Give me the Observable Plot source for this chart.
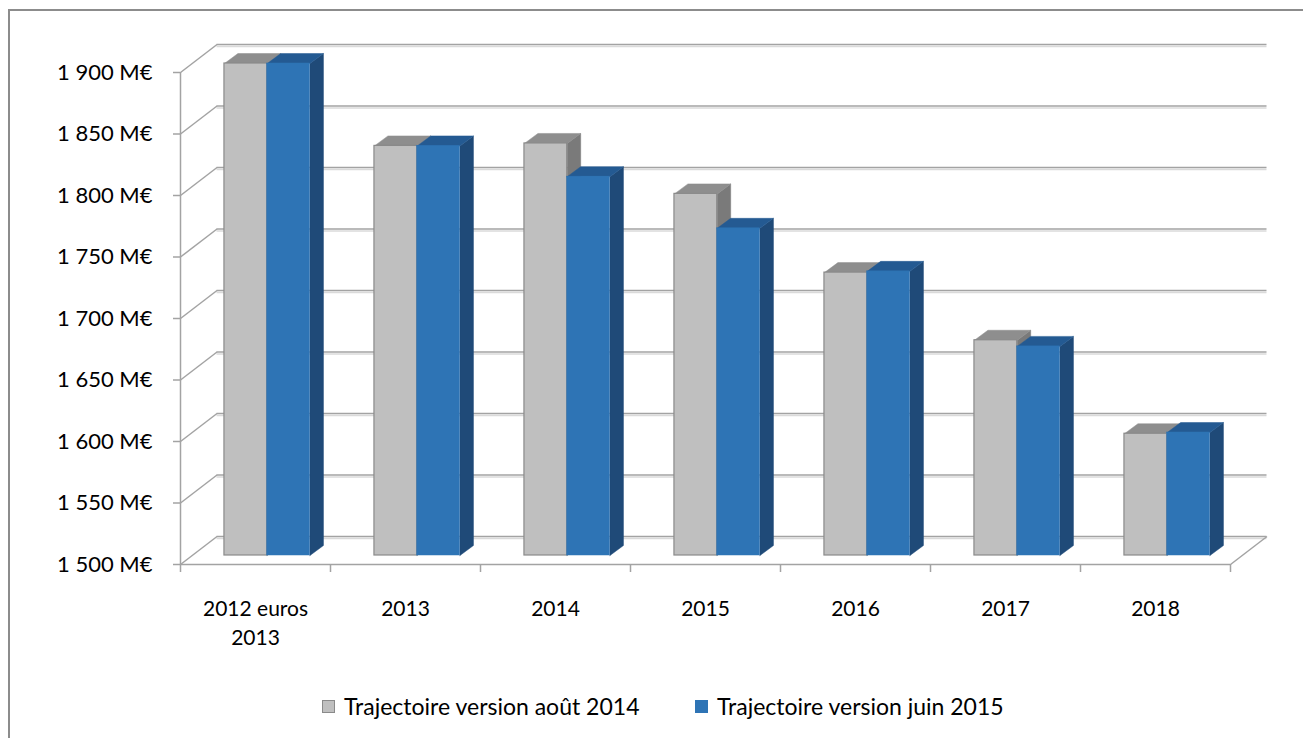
<!DOCTYPE html>
<html>
<head>
<meta charset="utf-8">
<script src="https://cdn.jsdelivr.net/npm/d3@7"></script>
<script src="https://cdn.jsdelivr.net/npm/@observablehq/plot@0.6"></script>
<style>
  html, body { margin: 0; padding: 0; background: #fff; overflow: hidden; }
  body { width: 1303px; height: 738px; position: relative; font-family: Lato, "Open Sans", sans-serif; }
  #frame { position: absolute; left: 8px; top: 9px; width: 1400px; height: 800px; border: 2px solid #8c8c8c; box-sizing: border-box; }
  #chart { position: absolute; left: 0; top: 0; }
  .leg { position: absolute; top: 694px; height: 24px; display: flex; align-items: center; font-size: 23px; color: #000; white-space: nowrap; }
  .sw { width: 13px; height: 13px; margin-right: 9px; box-sizing: border-box; }
</style>
</head>
<body>
<div id="frame"></div>
<div id="chart"></div>
<div class="leg" style="left:322px"><div class="sw" style="background:#bfbfbf;border:1.5px solid #8a8a8a"></div><span>Trajectoire version août 2014</span></div>
<div class="leg" style="left:695px"><div class="sw" style="background:#2e74b5"></div><span>Trajectoire version juin 2015</span></div>
<script>
// ---- data ----
const categories = ["2012 euros\n2013", "2013", "2014", "2015", "2016", "2017", "2018"];
const trajAout2014 = [1900, 1833, 1835, 1794, 1730, 1675, 1599];
const trajJuin2015 = [1900, 1833, 1808, 1766, 1731, 1670, 1600];
const seriesNames = ["Trajectoire version août 2014", "Trajectoire version juin 2015"];
const yTicks = [1500, 1550, 1600, 1650, 1700, 1750, 1800, 1850, 1900];

// ---- layout ----
const W = 1303, H = 660, mL = 180, mR = 73, mT = 72, mB = 96;
const yMin = 1500, yMax = 1900, nCat = categories.length;
const kx = (W - mL - mR) / nCat;          // px per category unit
const ky = (H - mT - mB) / (yMax - yMin); // px per value unit
// depth offsets (pixels) converted to data units
const WX = 36.5 / kx, WY = 28 / ky;   // wall / floor depth
const FX = 11.7 / kx, FY = 9 / ky;    // bar front plane
const BX = 13.5 / kx, BY = 10 / ky;   // bar depth
const barW = 0.285;

const palette = [
  {front: "#bfbfbf", top: "#8e8e8e", side: "#7a7a7a", edge: "#8a8a8a"},
  {front: "#2e74b5", top: "#245a92", side: "#1f4a78", edge: "#2e74b5"}
];
const series = [trajAout2014, trajJuin2015];

const fr = (d) => {
  const s = d3.format(",")(d).replace(/,/g, " ");
  return s + " M€";
};

const marks = [];
// back wall gridlines (shadow + line)
marks.push(Plot.ruleY(yTicks, {y: d => d + WY, x1: WX, x2: nCat + WX, stroke: "#dadada", strokeWidth: 1.5, dy: 2}));
marks.push(Plot.ruleY(yTicks, {y: d => d + WY, x1: WX, x2: nCat + WX, stroke: "#a3a3a3", strokeWidth: 1.5}));
// side wall diagonals
marks.push(Plot.link(yTicks, {x1: 0, y1: d => d, x2: WX, y2: d => d + WY, stroke: "#a3a3a3", strokeWidth: 1.5}));
// floor right edge
marks.push(Plot.link([yMin], {x1: nCat, y1: d => d, x2: nCat + WX, y2: d => d + WY, stroke: "#a3a3a3", strokeWidth: 1.5}));
// front axis lines
marks.push(Plot.ruleX([0], {y1: yMin, y2: yMax, stroke: "#a3a3a3", strokeWidth: 1.5}));
marks.push(Plot.ruleY([yMin], {x1: 0, x2: nCat, stroke: "#a3a3a3", strokeWidth: 1.5}));

// bars
series.forEach((vals, s) => {
  const col = palette[s];
  const bars = vals.map((v, i) => {
    const x1 = i + 0.5 - barW + s * barW + FX;
    return {id: `${s}-${i}`, x1, x2: x1 + barW, y1: yMin + FY, y2: v + FY, name: seriesNames[s], cat: categories[i], v};
  });
  const side = bars.flatMap(b => [
    {id: b.id, x: b.x2, y: b.y1}, {id: b.id, x: b.x2, y: b.y2},
    {id: b.id, x: b.x2 + BX, y: b.y2 + BY}, {id: b.id, x: b.x2 + BX, y: b.y1 + BY}, {id: b.id, x: b.x2, y: b.y1}
  ]);
  const top = bars.flatMap(b => [
    {id: b.id, x: b.x1, y: b.y2}, {id: b.id, x: b.x2, y: b.y2},
    {id: b.id, x: b.x2 + BX, y: b.y2 + BY}, {id: b.id, x: b.x1 + BX, y: b.y2 + BY}, {id: b.id, x: b.x1, y: b.y2}
  ]);
  marks.push(Plot.line(side, {x: "x", y: "y", z: "id", fill: col.side, stroke: col.side, strokeWidth: 0.5}));
  marks.push(Plot.line(top, {x: "x", y: "y", z: "id", fill: col.top, stroke: col.top, strokeWidth: 0.5}));
  marks.push(Plot.rectY(bars, {x1: "x1", x2: "x2", y1: "y1", y2: "y2", fill: col.front, stroke: col.edge, strokeWidth: s === 0 ? 1.2 : 0.5}));
});

// axes
marks.push(Plot.axisY({ticks: yTicks, tickSize: 7, tickPadding: 21, tickFormat: fr, fontSize: 22, stroke: "#a3a3a3", strokeWidth: 1.5, fill: "#000"}));
marks.push(Plot.axisX({ticks: d3.range(0, nCat + 1), tickSize: 8, tickFormat: () => "", stroke: "#a3a3a3", strokeWidth: 1.5}));
marks.push(Plot.text(categories, {x: (d, i) => i + 0.5, y: yMin, dy: 30, lineAnchor: "top", lineHeight: 1.42, fontSize: 21, fill: "#000", textAnchor: "middle"}));

const chart = Plot.plot({
  width: W, height: H,
  marginLeft: mL, marginRight: mR, marginTop: mT, marginBottom: mB,
  x: {type: "linear", domain: [0, nCat], axis: null},
  y: {type: "linear", domain: [yMin, yMax], axis: null},
  style: {fontFamily: "Lato, 'Open Sans', sans-serif", background: "transparent", overflow: "visible", color: "#000"},
  marks
});
document.getElementById("chart").appendChild(chart);
</script>
</body>
</html>
